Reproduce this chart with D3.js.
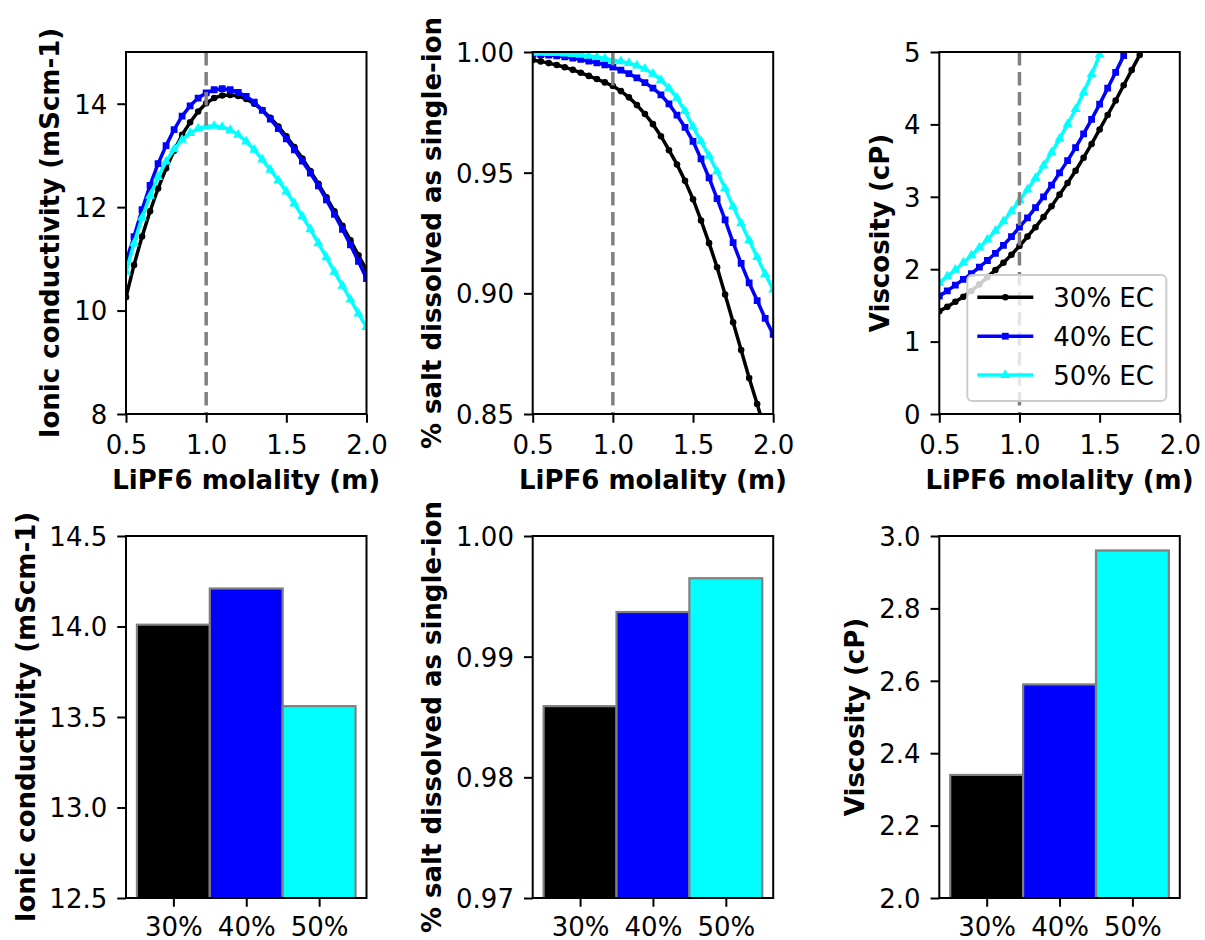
<!DOCTYPE html>
<html>
<head>
<meta charset="utf-8">
<script src="https://cdn.jsdelivr.net/npm/d3@7"></script>
<style>
  body { margin: 0; background: #fff; }
  svg text { font-family: "DejaVu Sans", sans-serif; }
</style>
</head>
<body>
<svg id="chart" width="1205" height="940"></svg>
<script>
// LiPF6 molality grid (m)
const molality = [0.5, 0.55, 0.6, 0.65, 0.7, 0.75, 0.8, 0.85, 0.9, 0.95, 1.0,
  1.05, 1.1, 1.15, 1.2, 1.25, 1.3, 1.35, 1.4, 1.45, 1.5,
  1.55, 1.6, 1.65, 1.7, 1.75, 1.8, 1.85, 1.9, 1.95, 2.0];

// ionic conductivity (mS/cm)
const cond30 = [10.26, 10.88, 11.43, 11.92, 12.36, 12.75, 13.09, 13.40, 13.64, 13.85, 14.01,
  14.11, 14.16, 14.17, 14.15, 14.09, 14.00, 13.88, 13.73, 13.56, 13.37,
  13.16, 12.94, 12.70, 12.45, 12.19, 11.92, 11.64, 11.36, 11.07, 10.78];
const cond40 = [10.95, 11.43, 11.95, 12.42, 12.84, 13.19, 13.50, 13.76, 13.96, 14.11, 14.21,
  14.27, 14.29, 14.27, 14.22, 14.14, 14.03, 13.87, 13.70, 13.52, 13.32,
  13.11, 12.89, 12.66, 12.41, 12.14, 11.86, 11.57, 11.27, 10.95, 10.62];
const cond50 = [10.75, 11.30, 11.80, 12.22, 12.58, 12.88, 13.12, 13.30, 13.43, 13.52, 13.56,
  13.57, 13.55, 13.49, 13.40, 13.27, 13.11, 12.92, 12.72, 12.52, 12.30,
  12.07, 11.82, 11.57, 11.30, 11.03, 10.75, 10.48, 10.21, 9.94, 9.68];

// fraction of salt dissolved as single ions
const frac30 = [0.9967, 0.9961, 0.9954, 0.9946, 0.9937, 0.9926, 0.9914, 0.9901, 0.9888, 0.9874, 0.9859,
  0.9838, 0.9812, 0.9780, 0.9743, 0.9701, 0.9651, 0.9593, 0.9534, 0.9466, 0.9390,
  0.9302, 0.9208, 0.9108, 0.8995, 0.8880, 0.8765, 0.8649, 0.8541, 0.8430, 0.8310];
const frac40 = [0.9990, 0.9989, 0.9987, 0.9984, 0.9980, 0.9975, 0.9969, 0.9962, 0.9955, 0.9947, 0.9937,
  0.9925, 0.9910, 0.9893, 0.9873, 0.9850, 0.9822, 0.9785, 0.9738, 0.9688, 0.9630,
  0.9557, 0.9478, 0.9392, 0.9304, 0.9210, 0.9124, 0.9043, 0.8970, 0.8896, 0.8830];
const frac50 = [0.9997, 0.9997, 0.9996, 0.9995, 0.9993, 0.9991, 0.9988, 0.9984, 0.9979, 0.9973, 0.9966,
  0.9961, 0.9954, 0.9944, 0.9930, 0.9910, 0.9884, 0.9850, 0.9810, 0.9755, 0.9690,
  0.9630, 0.9570, 0.9505, 0.9435, 0.9360, 0.9290, 0.9220, 0.9150, 0.9080, 0.9015];

// viscosity (cP) - read until the curves leave the plot at 5 cP
const visc30 = [1.42, 1.48, 1.55, 1.62, 1.70, 1.79, 1.89, 1.99, 2.09, 2.20, 2.32,
  2.45, 2.58, 2.72, 2.87, 3.03, 3.19, 3.36, 3.54, 3.73, 3.93,
  4.13, 4.33, 4.54, 4.75, 4.96, 5.19];
const visc40 = [1.63, 1.70, 1.78, 1.86, 1.94, 2.03, 2.12, 2.22, 2.33, 2.45, 2.58,
  2.71, 2.85, 3.00, 3.16, 3.33, 3.50, 3.68, 3.87, 4.07, 4.28,
  4.50, 4.72, 4.95, 5.19];
const visc50 = [1.81, 1.90, 1.99, 2.09, 2.19, 2.30, 2.41, 2.53, 2.66, 2.80, 2.95,
  3.10, 3.26, 3.43, 3.61, 3.80, 4.00, 4.21, 4.44, 4.69, 4.96, 5.22];

// values at 1.0 m, shown as bars
const ecCategories = ["30%", "40%", "50%"];
const seriesLabels = ["30% EC", "40% EC", "50% EC"];
const barCond = [14.01, 14.21, 13.56];
const barFrac = [0.9859, 0.9937, 0.9965];
const barVisc = [2.34, 2.59, 2.96];

const molTicks = [0.5, 1.0, 1.5, 2.0];
const condTicks = [8, 10, 12, 14];
const fracTicks = [0.85, 0.90, 0.95, 1.00];
const viscTicks = [0, 1, 2, 3, 4, 5];
const barCondTicks = [12.5, 13.0, 13.5, 14.0, 14.5];
const barFracTicks = [0.97, 0.98, 0.99, 1.00];
const barViscTicks = [2.0, 2.2, 2.4, 2.6, 2.8, 3.0];

// ---- layout ----
const colors = ["#000000", "#0000ff", "#00ffff"];
const symbols = [d3.symbolCircle, d3.symbolSquare, d3.symbolTriangle];
const symbolSizes = [34, 46, 44];
const FS = 26;
const colX = [126, 532.7, 939.3];
const rowY = [52, 536];
const axW = 240.5, axH = 362;

const svg = d3.select("#chart");
svg.append("rect").attr("width", 1205).attr("height", 940).attr("fill", "#fff");

let clipId = 0;

function makePanel(col, row) {
  const g = svg.append("g").attr("transform", `translate(${colX[col]},${rowY[row]})`);
  const id = "clip" + (clipId++);
  svg.append("clipPath").attr("id", id)
    .append("rect").attr("width", axW).attr("height", axH);
  return { g, clip: `url(#${id})` };
}

function drawAxes(g, x, y, cfg) {
  const yAxis = g.append("g")
    .call(d3.axisLeft(y).tickValues(cfg.yTicks).tickFormat(cfg.yFmt)
      .tickSize(8.75).tickPadding(10).tickSizeOuter(0));
  const xAxis = g.append("g").attr("transform", `translate(0,${axH})`)
    .call(d3.axisBottom(x).tickValues(cfg.xTicks).tickFormat(cfg.xFmt)
      .tickSize(8.75).tickPadding(cfg.xPad).tickSizeOuter(0));
  [yAxis, xAxis].forEach(a => {
    a.select(".domain").remove();
    a.attr("font-family", "DejaVu Sans").attr("font-size", FS);
    a.selectAll("line").attr("stroke", "#000").attr("stroke-width", 2);
    a.selectAll("text").attr("fill", "#000");
  });
  yAxis.selectAll("text").attr("dy", "0.36em");

  // spines
  g.append("rect").attr("width", axW).attr("height", axH)
    .attr("fill", "none").attr("stroke", "#000").attr("stroke-width", 2);

  g.append("text")
    .attr("transform", `translate(${cfg.ylabelX},${axH / 2}) rotate(-90)`)
    .attr("text-anchor", "middle")
    .attr("font-size", FS).attr("font-weight", "bold")
    .text(cfg.ylabel);

  if (cfg.xlabel) {
    g.append("text")
      .attr("x", axW / 2).attr("y", axH + 75)
      .attr("text-anchor", "middle")
      .attr("font-size", FS).attr("font-weight", "bold")
      .text(cfg.xlabel);
  }
}

function linePanel(col, cfg) {
  const { g, clip } = makePanel(col, 0);
  const x = d3.scaleLinear().domain([0.5, 2.0]).range([0, axW]);
  const y = d3.scaleLinear().domain(cfg.yDomain).range([axH, 0]);
  const plot = g.append("g").attr("clip-path", clip);
  const line = d3.line().x(d => x(d[0])).y(d => y(d[1]));

  cfg.series.forEach((vals, i) => {
    const pts = d3.zip(molality, vals);
    plot.append("path").datum(pts)
      .attr("fill", "none").attr("stroke", colors[i])
      .attr("stroke-width", 3.5).attr("stroke-linejoin", "round")
      .attr("d", line);
    plot.selectAll(null).data(pts).enter().append("path")
      .attr("transform", d => `translate(${x(d[0])},${y(d[1])})`)
      .attr("d", d3.symbol(symbols[i], symbolSizes[i]))
      .attr("fill", colors[i]);
  });

  // reference line at 1.0 m
  plot.append("line")
    .attr("x1", x(1.0)).attr("x2", x(1.0)).attr("y1", 0).attr("y2", axH)
    .attr("stroke", "#808080").attr("stroke-width", 3.5)
    .attr("stroke-dasharray", "13.5,6.5");

  drawAxes(g, x, y, {
    yTicks: cfg.yTicks, yFmt: cfg.yFmt,
    xTicks: molTicks, xFmt: d3.format(".1f"), xPad: 12.5,
    ylabel: cfg.ylabel, ylabelX: cfg.ylabelX,
    xlabel: "LiPF6 molality (m)"
  });

  if (cfg.legend) {
    const lw = 199, lh = 126;
    const lg = g.append("g").attr("transform", `translate(${axW - 13.5 - lw},${axH - 13 - lh})`);
    lg.append("rect").attr("width", lw).attr("height", lh).attr("rx", 5)
      .attr("fill", "#fff").attr("fill-opacity", 0.8)
      .attr("stroke", "#cccccc").attr("stroke-width", 2);
    seriesLabels.forEach((lab, i) => {
      const yy = 22.3 + i * 38.9;
      lg.append("line").attr("x1", 10).attr("x2", 66).attr("y1", yy).attr("y2", yy)
        .attr("stroke", colors[i]).attr("stroke-width", 3.5);
      lg.append("path").attr("transform", `translate(38,${yy})`)
        .attr("d", d3.symbol(symbols[i], symbolSizes[i])).attr("fill", colors[i]);
      lg.append("text").attr("x", 86).attr("y", yy + 9.5)
        .attr("font-size", FS).text(lab);
    });
  }
}

function barPanel(col, cfg) {
  const { g, clip } = makePanel(col, 1);
  const x = d3.scaleLinear().domain([-0.65, 2.65]).range([0, axW]);
  const y = d3.scaleLinear().domain(cfg.yDomain).range([axH, 0]);
  const plot = g.append("g").attr("clip-path", clip);
  plot.selectAll("rect").data(cfg.values).enter().append("rect")
    .attr("x", (d, i) => x(i - 0.5))
    .attr("width", (d, i) => x(i + 0.5) - x(i - 0.5))
    .attr("y", d => y(d))
    .attr("height", d => y(cfg.yDomain[0]) + 10 - y(d))
    .attr("fill", (d, i) => colors[i])
    .attr("stroke", "#808080").attr("stroke-width", 2.2);

  drawAxes(g, x, y, {
    yTicks: cfg.yTicks, yFmt: cfg.yFmt,
    xTicks: [0, 1, 2], xFmt: i => ecCategories[i], xPad: 11,
    ylabel: cfg.ylabel, ylabelX: cfg.ylabelX
  });
}

linePanel(0, { series: [cond30, cond40, cond50], yDomain: [8, 15], yTicks: condTicks,
  yFmt: d3.format("d"), ylabel: "Ionic conductivity (mScm-1)", ylabelX: -67.5 });
linePanel(1, { series: [frac30, frac40, frac50], yDomain: [0.85, 1.0], yTicks: fracTicks,
  yFmt: d3.format(".2f"), ylabel: "% salt dissolved as single-ion", ylabelX: -92.2 });
linePanel(2, { series: [visc30, visc40, visc50], yDomain: [0, 5], yTicks: viscTicks,
  yFmt: d3.format("d"), ylabel: "Viscosity (cP)", ylabelX: -50.5, legend: true });

barPanel(0, { values: barCond, yDomain: [12.5, 14.5], yTicks: barCondTicks,
  yFmt: d3.format(".1f"), ylabel: "Ionic conductivity (mScm-1)", ylabelX: -91.5 });
barPanel(1, { values: barFrac, yDomain: [0.97, 1.0], yTicks: barFracTicks,
  yFmt: d3.format(".2f"), ylabel: "% salt dissolved as single-ion", ylabelX: -92.2 });
barPanel(2, { values: barVisc, yDomain: [2.0, 3.0], yTicks: barViscTicks,
  yFmt: d3.format(".1f"), ylabel: "Viscosity (cP)", ylabelX: -75.3 });
</script>
</body>
</html>
